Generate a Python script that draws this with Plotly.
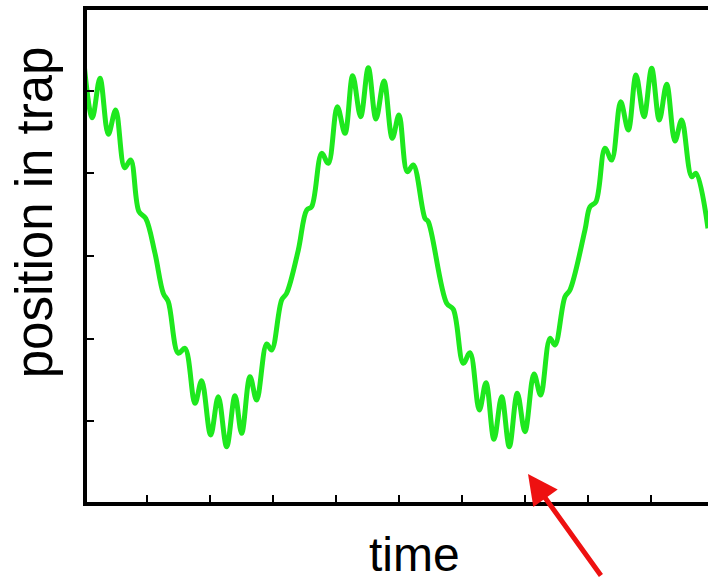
import plotly.graph_objects as go

# Values (arbitrary units; x ticks every 1 time unit, y ticks every 1 position unit)
time = [0.000, 0.132, 0.254, 0.386, 0.503, 0.646, 0.741, 0.873, 0.979, 1.127,
        1.259, 1.338, 1.497, 1.603, 1.762, 1.868, 2.011, 2.132, 2.265, 2.397,
        2.503, 2.635, 2.741, 2.900, 2.979, 3.138, 3.217, 3.402, 3.535, 3.614,
        3.773, 3.878, 4.021, 4.143, 4.265, 4.392, 4.513, 4.635, 4.762, 4.894,
        5.000, 5.132, 5.227, 5.413, 5.465, 5.757, 5.862, 6.021, 6.127, 6.275,
        6.381, 6.508, 6.630, 6.751, 6.878, 7.000, 7.143, 7.249, 7.397, 7.476,
        7.635, 7.714, 7.952, 8.032, 8.127, 8.270, 8.376, 8.519, 8.640, 8.762,
        8.889, 9.011, 9.132, 9.249, 9.381, 9.487, 9.646, 9.714, 9.905]
position = [5.334, 4.673, 5.149, 4.472, 4.766, 4.068, 4.161, 3.536, 3.456, 3.033,
            2.549, 2.447, 1.823, 1.883, 1.218, 1.491, 0.835, 1.298, 0.693, 1.310,
            0.855, 1.540, 1.258, 1.935, 1.863, 2.468, 2.549, 3.072, 3.556, 3.596,
            4.242, 4.121, 4.806, 4.484, 5.181, 4.685, 5.278, 4.657, 5.117, 4.424,
            4.705, 4.020, 4.101, 3.456, 3.415, 2.428, 2.355, 1.702, 1.830, 1.137,
            1.467, 0.783, 1.298, 0.693, 1.339, 0.875, 1.573, 1.318, 2.004, 1.923,
            2.508, 2.589, 3.314, 3.596, 3.657, 4.303, 4.161, 4.866, 4.524, 5.189,
            4.685, 5.270, 4.645, 5.077, 4.391, 4.645, 3.959, 4.000, 3.335]

x_ticks = [1, 2, 3, 4, 5, 6, 7, 8, 9]
y_ticks = [1, 2, 3, 4, 5]
x_range = [0.048, 9.905]
y_range = [0.024, 5.976]
x_label = "time"
y_label = "position in trap"
arrow_target = (7.048, 0.363)

FONT = "Arial, Liberation Sans, sans-serif"

fig = go.Figure()
fig.add_trace(go.Scatter(
    x=time, y=position, mode="lines",
    line=dict(color="#1ee81e", width=5, shape="spline", smoothing=1.0),
    hoverinfo="skip", showlegend=False, cliponaxis=True,
))

axis_common = dict(ticks="inside", ticklen=7, tickwidth=1.5, tickcolor="black",
                   showticklabels=False, showgrid=False, zeroline=False,
                   showline=True, linecolor="black", linewidth=4)

fig.update_layout(
    width=708, height=577,
    margin=dict(l=87, r=0, t=10, b=75),
    paper_bgcolor="white", plot_bgcolor="white",
    xaxis=dict(range=x_range, tickvals=x_ticks, mirror=True, **axis_common),
    yaxis=dict(range=y_range, tickvals=y_ticks, **axis_common),
    annotations=[
        dict(text=y_label, xref="paper", yref="paper", x=-0.0853, y=0.589,
             textangle=-90, showarrow=False, xanchor="center", yanchor="middle",
             font=dict(family=FONT, size=51, color="black")),
        dict(text=x_label, xref="paper", yref="paper", x=0.5266, y=-0.1077,
             showarrow=False, xanchor="center", yanchor="middle",
             font=dict(family=FONT, size=48, color="black")),
        dict(text="", x=arrow_target[0], y=arrow_target[1], xref="x", yref="y",
             showarrow=True, ax=74, ay=115, arrowcolor="#ee1111", arrowwidth=5,
             arrowhead=2, arrowsize=1.2),
    ],
)

# remove the default page margin so the figure fills the window exactly
fig.write_html(
    "out.html",
    config={"displayModeBar": False},
    post_script="document.body.style.margin='0';document.body.style.overflow='hidden';",
)
